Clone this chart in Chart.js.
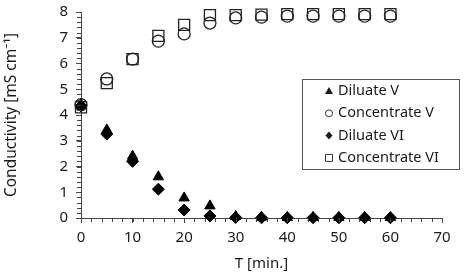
<!DOCTYPE html>
<html>
<head>
<meta charset="utf-8">
<script src="https://cdn.jsdelivr.net/npm/chart.js@4"></script>
<style>
  html, body { margin: 0; padding: 0; background: #fff; }
  #wrap { width: 464px; height: 277px; }
</style>
</head>
<body>
<div id="wrap"><canvas id="cond"></canvas></div>
<script>
// time points [min.]
const times = [0, 5, 10, 15, 20, 25, 30, 35, 40, 45, 50, 55, 60];

// conductivity values [mS cm-1]
const diluateV      = [4.40, 3.42, 2.40, 1.60, 0.78, 0.47, 0.06, 0.03, 0.02, 0.02, 0.02, 0.02, 0.02];
const concentrateV  = [4.40, 5.40, 6.17, 6.87, 7.15, 7.57, 7.77, 7.80, 7.84, 7.84, 7.84, 7.84, 7.84];
const diluateVI     = [4.35, 3.26, 2.20, 1.12, 0.31, 0.08, 0.02, 0.01, 0.01, 0.01, 0.01, 0.01, 0.01];
const concentrateVI = [4.30, 5.24, 6.17, 7.07, 7.50, 7.88, 7.88, 7.90, 7.92, 7.92, 7.92, 7.92, 7.92];

const seriesNames = ['Diluate V', 'Concentrate V', 'Diluate VI', 'Concentrate VI'];
const xTicks = [0, 10, 20, 30, 40, 50, 60, 70];
const yTicks = [0, 1, 2, 3, 4, 5, 6, 7, 8];

const FONT = "'Noto Sans', 'Open Sans', sans-serif";
const INK = '#1a1a1a';

function toPoints(vals) {
    return times.map((t, i) => ({ x: t, y: vals[i] }));
}

// small legend box sitting inside the plot area
const legendBox = {
    id: 'legendBox',
    afterDraw(chart) {
        const c = chart.ctx;
        const x0 = 302, y0 = 79, w = 157, h = 90;
        c.save();
        c.fillStyle = '#fff';
        c.fillRect(x0, y0, w, h);
        c.strokeStyle = '#555';
        c.lineWidth = 1;
        c.strokeRect(x0 + 0.5, y0 + 0.5, w, h);
        c.font = '14.5px ' + FONT;
        c.textBaseline = 'middle';
        chart.data.datasets.forEach((ds, i) => {
            const y = y0 + 12 + i * 22.3;
            const mx = 329;
            c.beginPath();
            c.lineWidth = 1;
            c.strokeStyle = '#333';
            c.fillStyle = INK;
            if (ds.pointStyle === 'triangle') {
                c.moveTo(mx, y - 4); c.lineTo(mx + 4, y + 3); c.lineTo(mx - 4, y + 3); c.closePath(); c.fill();
            } else if (ds.pointStyle === 'circle') {
                c.arc(mx, y, 3.5, 0, Math.PI * 2); c.stroke();
            } else if (ds.pointStyle === 'rectRot') {
                c.moveTo(mx, y - 4); c.lineTo(mx + 3.5, y); c.lineTo(mx, y + 4); c.lineTo(mx - 3.5, y); c.closePath(); c.fill();
            } else {
                c.rect(mx - 3.5, y - 3.5, 7, 7); c.stroke();
            }
            c.fillStyle = INK;
            c.fillText(ds.label, 338, y);
        });
        c.restore();
    }
};

// minor tick marks (every 0.2 on y, every 2 on x)
const minorTicks = {
    id: 'minorTicks',
    afterDraw(chart) {
        const c = chart.ctx;
        const xs = chart.scales.x, ys = chart.scales.y;
        const a = chart.chartArea;
        c.save();
        c.strokeStyle = '#444';
        c.lineWidth = 1;
        c.beginPath();
        for (let v = 0; v <= 8.001; v += 0.2) {
            const py = Math.round(ys.getPixelForValue(v)) + 0.5;
            c.moveTo(a.left - 4, py); c.lineTo(a.left, py);
        }
        for (let v = 0; v <= 70.001; v += 2) {
            const px = Math.round(xs.getPixelForValue(v)) + 0.5;
            c.moveTo(px, a.bottom); c.lineTo(px, a.bottom + 4);
        }
        c.stroke();
        c.restore();
    }
};

const styles = [
    { pointStyle: 'triangle', pointRadius: 6, backgroundColor: '#000', borderColor: '#000', borderWidth: 1 },
    { pointStyle: 'circle', pointRadius: 6, backgroundColor: 'rgba(0,0,0,0)', borderColor: '#222', borderWidth: 1.3 },
    { pointStyle: 'rectRot', pointRadius: 6, backgroundColor: '#000', borderColor: '#000', borderWidth: 1 },
    { pointStyle: 'rect', pointRadius: 7.8, backgroundColor: 'rgba(0,0,0,0)', borderColor: '#222', borderWidth: 1.3 }
];
const seriesData = [diluateV, concentrateV, diluateVI, concentrateVI];

const ctx = document.getElementById('cond').getContext('2d');
const condChart = new Chart(ctx, {
    type: 'scatter',
    data: {
        datasets: seriesNames.map((name, i) => Object.assign({
            label: name,
            data: toPoints(seriesData[i]),
            clip: false
        }, styles[i]))
    },
    options: {
        responsive: true,
        maintainAspectRatio: false,
        animation: false,
        layout: { padding: { top: 12, right: 22, left: 0, bottom: 0 } },
        plugins: {
            legend: { display: false },
            tooltip: { enabled: false }
        },
        scales: {
            x: {
                type: 'linear',
                min: 0, max: 70,
                afterBuildTicks: s => { s.ticks = xTicks.map(v => ({ value: v })); },
                afterFit: s => { s.height = 59; s.paddingLeft = 0; s.paddingRight = 0; },
                border: { color: '#444', width: 1 },
                grid: { drawOnChartArea: false, tickLength: 5, color: '#444' },
                ticks: { color: INK, font: { family: FONT, size: 15 }, padding: 6 },
                title: { display: true, text: 'T [min.]', color: INK, font: { family: FONT, size: 15 }, padding: { top: 2 } }
            },
            y: {
                type: 'linear',
                min: 0, max: 8,
                afterBuildTicks: s => { s.ticks = yTicks.map(v => ({ value: v })); },
                afterFit: s => { s.width = 81; s.paddingTop = 0; s.paddingBottom = 0; },
                border: { color: '#444', width: 1 },
                grid: { drawOnChartArea: false, tickLength: 5, color: '#444' },
                ticks: { color: INK, font: { family: FONT, size: 15 }, padding: 8 },
                title: { display: true, text: 'Conductivity [mS cm\u207B\u00B9]', color: INK, font: { family: FONT, size: 15.5 }, padding: { top: 2, bottom: 4 } }
            }
        }
    },
    plugins: [minorTicks, legendBox]
});
</script>
</body>
</html>
